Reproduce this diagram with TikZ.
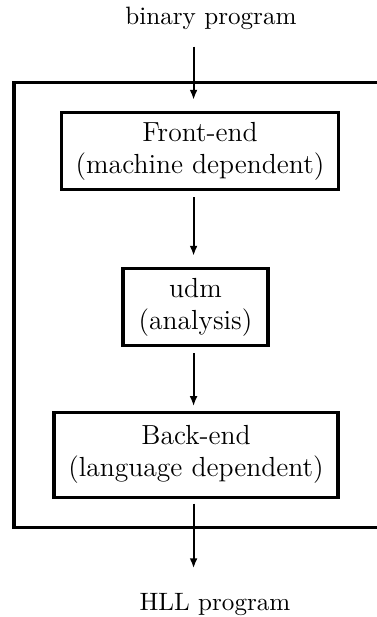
\documentclass[tikz,border=0pt]{standalone}
\usepackage{tikz}
\usetikzlibrary{arrows.meta,positioning}

\begin{document}
\begin{tikzpicture}[
    >={Latex[length=1.4mm,width=1.1mm]},
    stage/.style={draw,line width=1.2pt,minimum height=1.09cm,align=center,font=\fontsize{11}{12.8}\selectfont},
    io/.style={inner sep=0pt,font=\fontsize{10}{12}\selectfont},
    flow/.style={->,line width=0.8pt}
  ]

    \useasboundingbox (0,0) rectangle (5.278,-8.638);

    % outer frame, open to the right
    \draw[line width=1.2pt] (5.278,-1.148) -- (0.196,-1.148) -- (0.196,-7.378) -- (5.278,-7.378);

    \coordinate (axis) at (2.71,0);

    \node (bin) at (2.954,-0.26) [io] {binary program};
    \node (hll) at (3.01,-8.47) [io] {HLL program};

    \node (front) at (2.80,-2.114) [stage,minimum width=3.89cm] {Front-end\\(machine dependent)};
    \node (udm) at (2.737,-4.298) [stage,minimum width=2.03cm] {udm\\(analysis)};
    \node (back) at (2.744,-6.363) [stage,minimum width=3.976cm,minimum height=1.19cm] {Back-end\\(language dependent)};

    \draw[flow,shorten <=0.227cm,shorten >=0.15cm] (bin.south -| axis) -- (front.north -| axis);
    \draw[flow,shorten <=0.08cm,shorten >=0.15cm] (front.south -| axis) -- (udm.north -| axis);
    \draw[flow,shorten <=0.08cm,shorten >=0.06cm] (udm.south -| axis) -- (back.north -| axis);
    \draw[flow,shorten <=0.07cm,shorten >=0.35cm] (back.south -| axis) -- (hll.north -| axis);

\end{tikzpicture}
\end{document}
